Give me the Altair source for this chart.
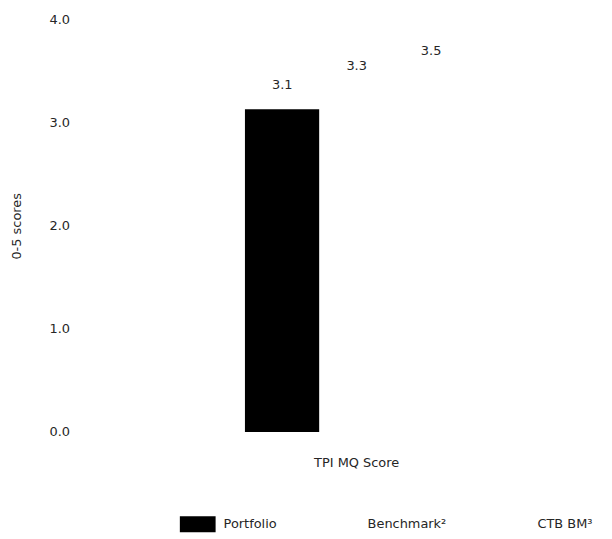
import altair as alt
import pandas as pd

category = ["TPI MQ Score"]
series = ["Portfolio", "Benchmark²", "CTB BM³"]
values = [3.13, 3.32, 3.46]
colors = ["#000000", "#ffffff", "#ffffff"]
y_ticks = [0, 1, 2, 3, 4]

df = pd.DataFrame({
    "category": category * len(series),
    "series": series,
    "value": values,
})

FONT = "DejaVu Sans"
TXT = "#262626"

x_enc = alt.X("category:N", title=None,
              scale=alt.Scale(paddingInner=0, paddingOuter=0.607),
              axis=alt.Axis(labelAngle=0, domain=False, ticks=False, grid=False, labelPadding=25,
                            labelFont=FONT, labelFontSize=13, labelColor=TXT))
xo_enc = alt.XOffset("series:N", sort=series, scale=alt.Scale(paddingInner=0, paddingOuter=0))
y_enc = alt.Y("value:Q", title="0-5 scores",
              scale=alt.Scale(domain=[0, 4], nice=False),
              axis=alt.Axis(values=y_ticks, format=".1f", domain=False, ticks=False,
                            grid=False, offset=32, labelPadding=8,
                            labelFont=FONT, labelFontSize=13, labelColor=TXT,
                            titleFont=FONT, titleFontSize=13, titleColor=TXT,
                            titleFontWeight="normal", titlePadding=26))

bars = alt.Chart(df).mark_bar().encode(
    x=x_enc, xOffset=xo_enc, y=y_enc,
    color=alt.Color("series:N", sort=series,
                    scale=alt.Scale(domain=series, range=colors),
                    legend=alt.Legend(title=None, orient="none", direction="horizontal",
                                      legendX=71, legendY=490,
                                      symbolType="M-1,-0.444H1V0.444H-1Z", symbolSize=1296,
                                      symbolStrokeWidth=0, symbolOpacity=1,
                                      labelFont=FONT, labelFontSize=13, labelColor=TXT,
                                      labelOffset=8, columnPadding=47, padding=0)),
)

labels = alt.Chart(df).mark_text(baseline="bottom", dy=-17, font=FONT, fontSize=13, color=TXT).encode(
    x=alt.X("category:N"), xOffset=alt.XOffset("series:N", sort=series),
    y=alt.Y("value:Q"),
    text=alt.Text("value:Q", format=".1f"),
)

chart = (bars + labels).properties(
    width=498, height=415,
    background="#ffffff",
    autosize=alt.AutoSizeParams(type="none"),
    padding={"left": 102, "top": 10, "right": 0, "bottom": 100},
).configure_view(stroke=None)

chart.save("out.html", embed_options={"renderer": "svg", "actions": False})
